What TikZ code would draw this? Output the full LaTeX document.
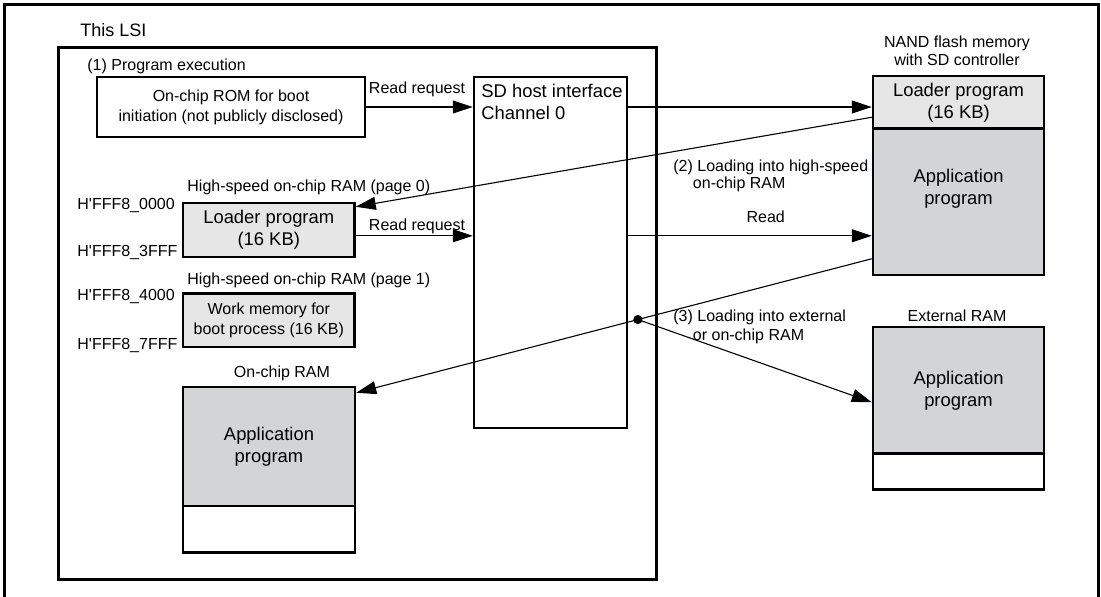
\documentclass[tikz,border=0pt]{standalone}
\usepackage{fontspec}
\setmainfont{Liberation Sans}
\usetikzlibrary{arrows.meta,fit,calc}
\definecolor{ltgray}{HTML}{E6E6E7}
\definecolor{appgray}{HTML}{D3D4D6}
\begin{document}
\begin{tikzpicture}[x=0.5pt,y=-0.5pt,
  box/.style={draw, line width=1.25pt, inner sep=0pt, align=center, font=\fontsize{9.2}{11}\selectfont},
  smallbox/.style={box, font=\fontsize{8}{10}\selectfont},
  small/.style={font=\fontsize{8}{10}\selectfont, inner sep=0pt, align=left},
  big/.style={font=\fontsize{9.2}{11}\selectfont, inner sep=0pt, align=center},
  conn/.style={line width=0.55pt, -{Triangle[length=10pt,width=6.5pt]}},
  plain/.style={line width=0.55pt}
]
\useasboundingbox (0,0) rectangle (1101,596);
\clip (0,0) rectangle (1101,596);
% outer frame
\draw[line width=1.5pt] (4.3,600) -- (4.3,4) -- (1098.5,4) -- (1098.5,600);

% LSI
\node[small, anchor=west, font=\fontsize{9}{11}\selectfont] (lsilbl) at (80,30) {This LSI};
\node[box, fit={(58.7,47.7) (656.7,579.3)}] (lsi) {};
\node[small, anchor=west] (execlbl) at (87,66) {(1) Program execution};
\node[smallbox, minimum width=134pt, minimum height=30pt] (rom) at (231,107) {On-chip ROM for boot\\initiation (not publicly disclosed)};

% SD host interface
\node[box, fit={(474,77) (627,428)}] (sd) {};
\node[big, anchor=north west, align=left] (sdtxt) at (481,84) {SD host interface\\Channel 0};

% High-speed RAM page 0
\node[small, anchor=west] (p0lbl) at (187,187) {High-speed on-chip RAM (page 0)};
\node[small, anchor=west] (a0) at (77,205) {H\textquotesingle FFF8\_0000};
\node[small, anchor=west] (a1) at (77,252.5) {H\textquotesingle FFF8\_3FFF};
\node[box, fill=ltgray, minimum width=85.75pt, minimum height=27pt] (ramL) at (268.75,230) {Loader program\\(16 KB)};

% page 1
\node[small, anchor=west] (p1lbl) at (187,280.5) {High-speed on-chip RAM (page 1)};
\node[small, anchor=west] (a2) at (77,296) {H\textquotesingle FFF8\_4000};
\node[small, anchor=west] (a3) at (77,345) {H\textquotesingle FFF8\_7FFF};
\node[smallbox, fill=ltgray, minimum width=85.75pt, minimum height=26.75pt] (work) at (268.75,320.25) {Work memory for\\boot process (16 KB)};

% On-chip RAM
\node[small, align=center] (oclbl) at (282,373) {On-chip RAM};
\node[box, fill=appgray, minimum width=86pt, minimum height=59.5pt] (ramA) at (269,446.5) {Application\\program};
\node[box, fill=white, fit={(183,506) (355,552.5)}] (ramE) {};

% NAND
\node[small, align=center, font=\fontsize{8}{9}\selectfont] (nandlbl) at (957,51) {NAND flash memory\\with SD controller};
\node[box, fill=appgray, fit={(873,128.5) (1044,275)}] (nandA) {};
\node[box, fill=ltgray, minimum width=85.5pt, minimum height=26.25pt] (nandL) at (958.5,102.25) {Loader program\\(16 KB)};
\node[big] (nandAtxt) at (958.5,189) {Application\\program};

% External RAM
\node[small, align=center] (extlbl) at (957,316) {External RAM};
\node[box, fill=appgray, minimum width=85.5pt, minimum height=63.25pt] (extA) at (958.5,390.25) {Application\\program};
\node[box, fill=white, fit={(873,453.5) (1044,489.5)}] (extE) {};

% connectors
\draw[conn] (rom.east) -- (rom.east -| sd.west);
\node[small, align=center] (rr1) at (417,89) {Read request};
\draw[conn] (rom.east -| sd.east) -- (rom.east -| nandL.west);

\coordinate (p2s) at ([yshift=-7.5pt]nandL.west);
\coordinate (p2e) at ([yshift=-2.5pt]ramL.north east);
\draw[conn] (p2s) -- (p2e);
\node[small, anchor=west, font=\fontsize{8}{8.5}\selectfont] (l2) at (673,175.5) {(2) Loading into high-speed\\\hphantom{(2)}on-chip RAM};

\coordinate (rr2s) at ([yshift=-2.9pt]ramL.east);
\draw[conn] (rr2s) -- (rr2s -| sd.west);
\node[small, align=center] (rr2) at (417,226) {Read request};
\draw[conn] (rr2s -| sd.east) -- (rr2s -| nandA.west);
\node[small, align=center] (rd) at (765.7,216.7) {Read};

\coordinate (p3s) at ([yshift=-28.5pt]nandA.west);
\coordinate (p3e) at ([yshift=-3.5pt]ramA.north east);
\draw[conn] (p3s) -- (p3e);
\coordinate (dot) at ($(p3s)!0.4537!(p3e)$);
\fill (dot) circle[radius=2.3pt];
\coordinate (p3x) at ([yshift=-6pt]extA.west);
\draw[conn] (dot) -- (p3x);
\node[small, anchor=west, font=\fontsize{8}{9.5}\selectfont] (l3) at (673,327) {(3) Loading into external\\\hphantom{(3)}or on-chip RAM};
\end{tikzpicture}
\end{document}
